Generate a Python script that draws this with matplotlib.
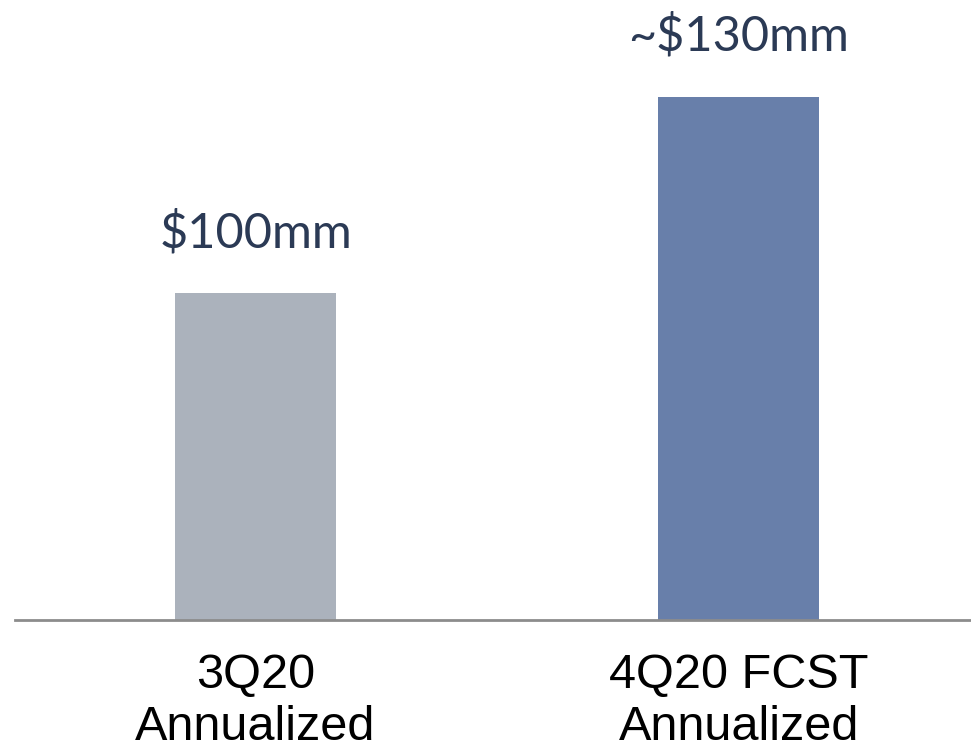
import matplotlib.pyplot as plt

categories = ['3Q20\nAnnualized', '4Q20 FCST\nAnnualized']
values = [100, 130]
value_labels = ['$100mm', '~$130mm']
colors = ['#abb2bc', '#687faa']

fig = plt.figure(figsize=(9.71, 7.52), dpi=100)
ax = fig.add_axes([15 / 971, 1 - 620 / 752, 956 / 971, 620 / 752])

x = range(len(categories))
ax.bar(x, values, width=0.333, color=colors)

for xi, v, lab in zip(x, values, value_labels):
    ax.annotate(lab, (xi, v), xytext=(0, 33), textcoords='offset points',
                ha='center', va='baseline', fontsize=35, color='#2b3a55',
                family=['Lato', 'DejaVu Sans'])

ax.set_xlim(-0.498, 1.481)
ax.set_ylim(50, 144.8)
ax.set_xticks(list(x))
ax.set_xticklabels(categories, fontsize=35, family='Liberation Sans',
                   linespacing=1.2)
ax.tick_params(axis='x', length=0, pad=24)
ax.set_yticks([])

for s in ['top', 'right', 'left']:
    ax.spines[s].set_visible(False)
ax.spines['bottom'].set_color('#8c8c8c')
ax.spines['bottom'].set_linewidth(2)

plt.savefig('out.png', dpi=100)
